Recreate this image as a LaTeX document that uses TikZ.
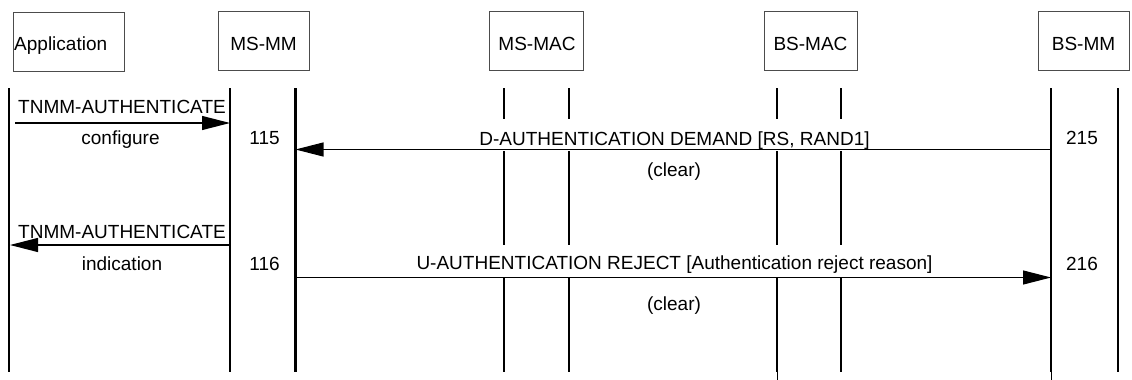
\documentclass[tikz,border=0pt]{standalone}
\usepackage{fontspec}
\setmainfont{Liberation Sans}
\usetikzlibrary{arrows.meta}
\begin{document}
\begin{tikzpicture}[x=1pt,y=-1pt,
  entity/.style={draw=black!70, line width=0.9pt, inner sep=0pt, fill=white},
  lifeline/.style={line width=2.8pt},
  tick/.style={line width=1pt},
  msg/.style={line width=1.1pt, -{Triangle[length=28pt,width=14pt]}},
  lbl/.style={anchor=base, inner sep=0pt, font=\fontsize{19}{23}\selectfont}]
\useasboundingbox (0,0) rectangle (1132,380);

% entity boxes
\node[entity, minimum width=111pt, minimum height=59pt] (app)   at (68.5,41.5) {};
\node[entity, minimum width=91pt,  minimum height=59pt] (msmm)  at (263.5,40.5) {};
\node[entity, minimum width=94pt,  minimum height=59pt] (msmac) at (536,40.5) {};
\node[entity, minimum width=93pt,  minimum height=59pt] (bsmac) at (810.5,40.5) {};
\node[entity, minimum width=91pt,  minimum height=59pt] (bsmm)  at (1083.5,40.5) {};

\node[lbl, anchor=base west] (appT) at (14,50.5) {Application};
\node[lbl] (msmmT)  at (263.5,50.5) {MS-MM};
\node[lbl] (msmacT) at (537,50.5) {MS-MAC};
\node[lbl] (bsmacT) at (810.5,50.5) {BS-MAC};
\node[lbl] (bsmmT)  at (1083.5,50.5) {BS-MM};

% continuous lifelines
\foreach \n/\x in {app/9, mmL/230, mmR/295.5, bmmL/1051, bmmR/1118}{
  \coordinate (\n-t) at (\x,88);
  \coordinate (\n-b) at (\x,372);
  \draw[lifeline] (\n-t) -- (\n-b);
}
% MAC lifelines, interrupted where the message labels pass
\foreach \n/\x in {macA/504, macB/569, macC/777, macD/841}{
  \coordinate (\n-t) at (\x,88);
  \coordinate (\n-b) at (\x,372);
  \draw[lifeline] (\n-t) -- (\x,119);
  \draw[lifeline] (\x,151) -- (\x,245);
  \draw[lifeline] (\x,277) -- (\n-b);
}
\draw[tick] ([xshift=0.5pt]macC-b) -- ++(0,8);
\draw[tick] (bmmL-b) -- ++(0,8);

% message levels
\coordinate (yCfg) at (0,123);
\coordinate (yDem) at (0,149.5);
\coordinate (yInd) at (0,245);
\coordinate (yRej) at (0,277.5);
\coordinate (cfgS) at (15,123);
\coordinate (indE) at (10,245);

% messages
\draw[msg] (cfgS) -- (mmL-t |- yCfg);
\draw[msg] (bmmL-t |- yDem) -- (mmR-t |- yDem);
\draw[msg] (mmL-t |- yInd) -- (indE);
\draw[msg] (mmR-t |- yRej) -- (bmmL-t |- yRej);

% labels
\node[lbl] (l1)  at (122,113.5) {TNMM-AUTHENTICATE};
\node[lbl] (l2)  at (120.5,144.5) {configure};
\node[lbl] (l3)  at (264.5,144.5) {115};
\node[lbl] (l4)  at (674.5,145) {D-AUTHENTICATION DEMAND [RS, RAND1]};
\node[lbl] (l5)  at (674,176) {(clear)};
\node[lbl] (l6)  at (1082,144.5) {215};
\node[lbl] (l7)  at (122,238.5) {TNMM-AUTHENTICATE};
\node[lbl] (l8)  at (122,270.3) {indication};
\node[lbl] (l9)  at (264.5,270.3) {116};
\node[lbl] (l10) at (674.5,269.5) {U-AUTHENTICATION REJECT [Authentication reject reason]};
\node[lbl] (l11) at (674,310) {(clear)};
\node[lbl] (l12) at (1082,270.3) {216};
\end{tikzpicture}
\end{document}
